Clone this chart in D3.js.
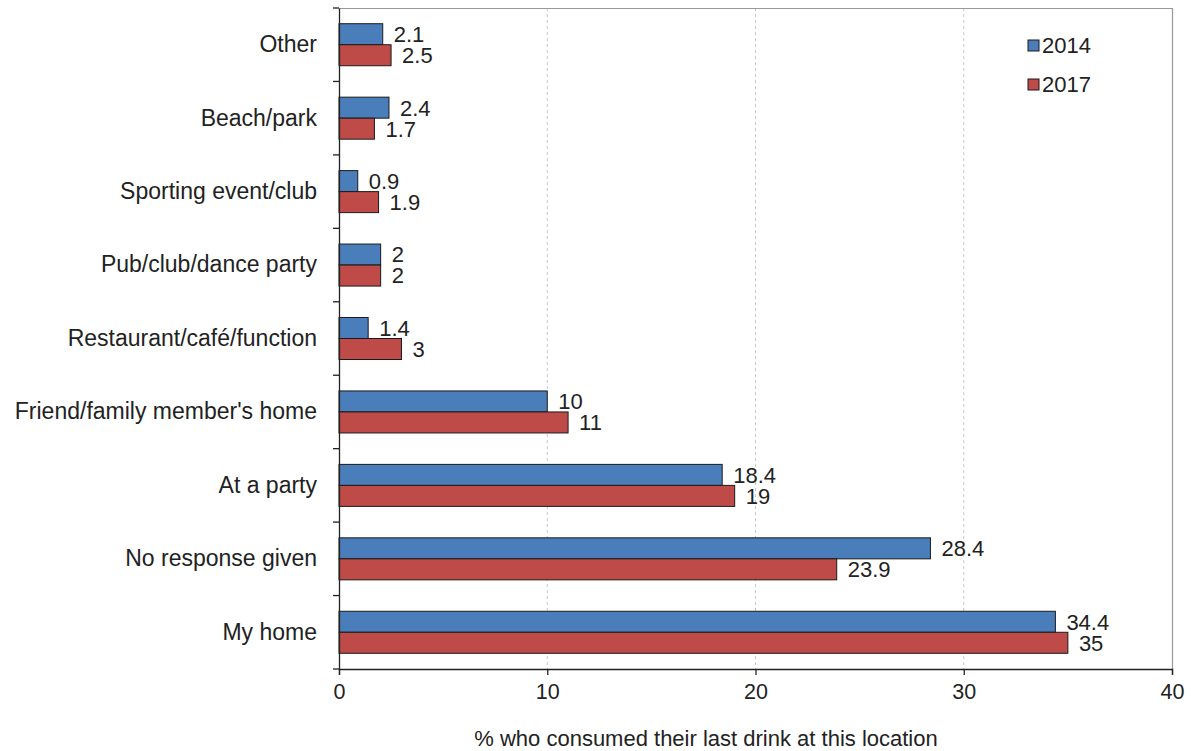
<!DOCTYPE html>
<html><head><meta charset="utf-8">
<script src="https://cdn.jsdelivr.net/npm/d3@7"></script>
<style>
html,body{margin:0;padding:0;background:#fff;}
svg text{font-family:"Liberation Sans",Arial,sans-serif;fill:#222;}
</style></head>
<body><svg id="chart" width="1191" height="751"></svg>
<script>
const categories = ["Other","Beach/park","Sporting event/club","Pub/club/dance party","Restaurant/café/function","Friend/family member's home","At a party","No response given","My home"];
const values2014 = [2.1,2.4,0.9,2,1.4,10,18.4,28.4,34.4];
const values2017 = [2.5,1.7,1.9,2,3,11,19,23.9,35];
const seriesNames = ["2014","2017"];
const xTicks = [0,10,20,30,40];
const xTitle = "% who consumed their last drink at this location";

const colors = ["#4a7ebb","#be4b48"];
const svg = d3.select("#chart");
const L = 339, R = 1172, T = 8, B = 669;
const x = d3.scaleLinear().domain([0,40]).range([L,R]);
const y = d3.scaleBand().domain(categories).range([T,B]).padding(0);
const barH = y.bandwidth()*0.286;

// grid
svg.append("g").selectAll("line").data(xTicks.filter(d=>d>0&&d<40)).join("line")
  .attr("x1",d=>x(d)).attr("x2",d=>x(d)).attr("y1",T).attr("y2",B)
  .attr("stroke","#c8c8c8").attr("stroke-width",1).attr("stroke-dasharray","3,3");
// frame top/right
svg.append("path").attr("d",`M${L},${T+0.5}H${R+0.5}V${B}`).attr("fill","none").attr("stroke","#999").attr("stroke-width",1.2);

const series = [values2014, values2017];
series.forEach((vals,si)=>{
  const g = svg.append("g");
  g.selectAll("rect").data(categories).join("rect")
    .attr("x",x(0))
    .attr("y",(c)=>y(c)+y.bandwidth()/2 - barH + si*barH)
    .attr("width",(c,i)=>x(vals[i])-x(0))
    .attr("height",barH)
    .attr("fill",colors[si]).attr("stroke","#1a1a1a").attr("stroke-width",1);
  g.selectAll("text").data(categories).join("text")
    .attr("x",(c,i)=>x(vals[i])+11)
    .attr("y",(c)=>y(c)+y.bandwidth()/2 - barH + si*barH + barH/2)
    .attr("dy","0.36em")
    .attr("font-size",22)
    .text((c,i)=>vals[i]);
});

// axes
const yAxis = d3.axisLeft(y).tickSize(0).tickPadding(22);
const yg = svg.append("g").attr("transform",`translate(${L},0)`).call(yAxis);
yg.select(".domain").attr("stroke","#222").attr("stroke-width",1.3);
yg.selectAll("text").attr("font-size",23).attr("fill","#222");
// band boundary ticks
svg.append("g").selectAll("line").data(d3.range(categories.length+1)).join("line")
  .attr("x1",L-6).attr("x2",L).attr("y1",i=>T+i*y.step()).attr("y2",i=>T+i*y.step())
  .attr("stroke","#222").attr("stroke-width",1.3);

const xAxis = d3.axisBottom(x).tickValues(xTicks).tickSize(6).tickPadding(9);
const xg = svg.append("g").attr("transform",`translate(0,${B})`).call(xAxis);
xg.select(".domain").attr("stroke","#222").attr("stroke-width",1.3);
xg.selectAll("line").attr("stroke","#222").attr("stroke-width",1.3);
xg.selectAll("text").attr("font-size",21.5).attr("fill","#222");

svg.append("text").attr("x",706).attr("y",746).attr("text-anchor","middle")
  .attr("font-size",22).text(xTitle);

// legend
const lg = svg.append("g");
seriesNames.forEach((s,i)=>{
  const cy = 45 + i*39;
  lg.append("rect").attr("x",1028).attr("y",cy-5).attr("width",11).attr("height",11)
    .attr("fill",colors[i]).attr("stroke","#1a1a1a").attr("stroke-width",1);
  lg.append("text").attr("x",1042).attr("y",cy).attr("dy","0.36em").attr("font-size",22).text(s);
});
</script></body></html>
